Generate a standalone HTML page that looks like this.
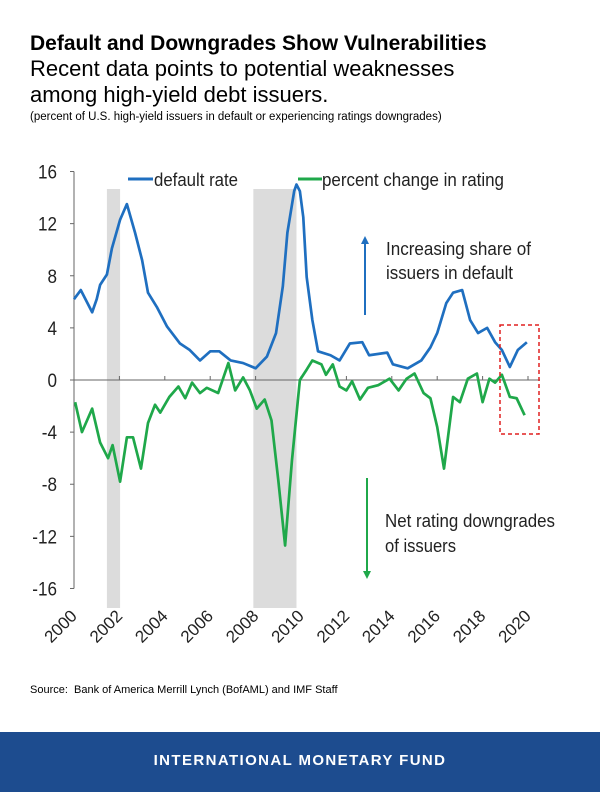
<!DOCTYPE html>
<html><head><meta charset="utf-8"><style>
body{margin:0;width:600px;height:792px;background:#fff;font-family:"Liberation Sans",sans-serif;position:relative;overflow:hidden}
.t{position:absolute;left:30px;color:#000}
</style></head><body>
<div class="t" style="top:32px;font-size:21px;font-weight:bold">Default and Downgrades Show Vulnerabilities</div>
<div class="t" style="top:56px;font-size:22px;line-height:26px">Recent data points to potential weaknesses<br>among high-yield debt issuers.</div>
<div class="t" style="top:111px;font-size:11.5px">(percent of U.S. high-yield issuers in default or experiencing ratings downgrades)</div>
<svg id="chart" style="position:absolute;left:0;top:0" width="600" height="730"></svg>
<div class="t" style="top:684px;font-size:11px">Source:&nbsp; Bank of America Merrill Lynch (BofAML) and IMF Staff</div>
<div style="position:absolute;left:0;top:732px;width:600px;height:60px;background:#1d4c8f;color:#fff;font-weight:bold;font-size:15px;letter-spacing:1.4px;text-align:center;line-height:58px">INTERNATIONAL MONETARY FUND</div>
<script>
const defYears=[2000,2000.3,2000.8,2001,2001.15,2001.45,2001.67,2002.03,2002.33,2002.69,2003,2003.26,2003.65,2004.1,2004.67,2005.1,2005.55,2006,2006.4,2006.9,2007.45,2008,2008.5,2008.9,2009.2,2009.4,2009.7,2009.8,2009.95,2010.1,2010.25,2010.5,2010.75,2011.3,2011.7,2012.15,2012.7,2013,2013.8,2014.05,2014.7,2015.3,2015.7,2016,2016.4,2016.7,2017.1,2017.45,2017.8,2018.2,2018.55,2018.85,2019.2,2019.55,2019.95];
const defVals=[6.2,6.9,5.2,6.2,7.3,8.1,10.1,12.3,13.5,11.3,9.2,6.7,5.6,4.1,2.8,2.3,1.5,2.2,2.2,1.5,1.3,0.9,1.8,3.6,7.2,11.3,14.5,15.0,14.5,12.5,7.9,4.6,2.2,1.9,1.5,2.8,2.9,1.9,2.1,1.2,0.9,1.5,2.5,3.6,5.9,6.7,6.9,4.6,3.6,4.0,2.9,2.3,1.0,2.3,2.9];
const rtYears=[2000.05,2000.35,2000.8,2001.15,2001.5,2001.7,2002.03,2002.33,2002.6,2002.95,2003.26,2003.57,2003.8,2004.2,2004.6,2004.9,2005.2,2005.55,2005.85,2006.35,2006.8,2007.1,2007.45,2007.75,2008.05,2008.4,2008.7,2009.0,2009.3,2009.6,2009.95,2010.25,2010.5,2010.9,2011.1,2011.4,2011.7,2012.0,2012.25,2012.6,2012.95,2013.4,2013.9,2014.3,2014.65,2015.0,2015.4,2015.7,2016.0,2016.3,2016.7,2017.0,2017.35,2017.75,2018.0,2018.3,2018.55,2018.85,2019.2,2019.5,2019.85];
const rtVals=[-1.7,-4.0,-2.2,-4.8,-6.0,-5.0,-7.8,-4.4,-4.4,-6.8,-3.3,-1.9,-2.5,-1.3,-0.5,-1.4,-0.2,-1.0,-0.6,-1.0,1.3,-0.8,0.2,-0.8,-2.2,-1.5,-3.1,-7.7,-12.7,-6.2,0,0.8,1.5,1.2,0.4,1.2,-0.5,-0.8,-0.1,-1.5,-0.6,-0.4,0.1,-0.8,0.1,0.5,-1.0,-1.4,-3.6,-6.8,-1.3,-1.7,0.1,0.5,-1.7,0.1,-0.2,0.4,-1.3,-1.4,-2.7];
const yTicks=[16,12,8,4,0,-4,-8,-12,-16];
const xTicks=[2000,2002,2004,2006,2008,2010,2012,2014,2016,2018,2020];
const recessions=[[2001.45,2002.03],[2007.9,2009.8]];
const NS="http://www.w3.org/2000/svg",svg=document.getElementById('chart');
const X=y=>74+(y-2000)*22.7, Y=v=>380-v*13.03;
function mk(t,a){const e=document.createElementNS(NS,t);for(const k in a)e.setAttribute(k,a[k]);svg.appendChild(e);return e;}
recessions.forEach((r,i)=>{const e=mk('rect',{x:X(r[0]),y:189,width:X(r[1])-X(r[0]),height:419,fill:'#dcdcdc'});

});
let e=mk('line',{x1:74,y1:Y(16),x2:74,y2:Y(-16),stroke:'#666'});


yTicks.forEach(v=>{mk('line',{x1:70,x2:74,y1:Y(v),y2:Y(v),stroke:'#666'});
const t=mk('text',{x:57,y:Y(v)+7,'text-anchor':'end','font-size':19,fill:'#222',transform:`scale(0.9 1)`,'transform-origin':`57 ${Y(v)}`});t.textContent=v;

});
e=mk('line',{x1:74,y1:380,x2:540,y2:380,stroke:'#666'});


xTicks.forEach(v=>{mk('line',{x1:X(v),x2:X(v),y1:376,y2:380,stroke:'#666'});
const t=mk('text',{x:X(v)+4,y:617,'text-anchor':'end','font-size':17,fill:'#222',transform:`rotate(-45 ${X(v)+4} 617)`});t.textContent=v;

});
e=mk('polyline',{points:defYears.map((y,i)=>X(y)+','+Y(defVals[i])).join(' '),fill:'none',stroke:'#1f6fc0','stroke-width':2.7,'stroke-linejoin':'round'});


e=mk('polyline',{points:rtYears.map((y,i)=>X(y)+','+Y(rtVals[i])).join(' '),fill:'none',stroke:'#1fa84a','stroke-width':2.7,'stroke-linejoin':'round'});


e=mk('rect',{x:500,y:325,width:39,height:109,fill:'none',stroke:'#e02020','stroke-width':1.5,'stroke-dasharray':'4,3'});


mk('line',{x1:128,x2:153,y1:179,y2:179,stroke:'#1f6fc0','stroke-width':3});
let t=mk('text',{x:154,y:186,'font-size':18,fill:'#222',textLength:84,lengthAdjust:'spacingAndGlyphs'});t.textContent='default rate';


mk('line',{x1:298,x2:322,y1:179,y2:179,stroke:'#1fa84a','stroke-width':3});
t=mk('text',{x:322,y:186,'font-size':18,fill:'#222',textLength:182,lengthAdjust:'spacingAndGlyphs'});t.textContent='percent change in rating';


mk('line',{x1:365,x2:365,y1:315,y2:242,stroke:'#1f6fc0','stroke-width':2});
mk('polygon',{points:'361,244 369,244 365,236',fill:'#1f6fc0'});
mk('line',{x1:367,x2:367,y1:478,y2:573,stroke:'#1fa84a','stroke-width':2});
mk('polygon',{points:'363,571 371,571 367,579',fill:'#1fa84a'});
[['Increasing share of',386,255,145],['issuers in default',386,279,127],['Net rating downgrades',385,527,170],['of issuers',385,552,71]].forEach(a=>{
const x=mk('text',{x:a[1],y:a[2],'font-size':18,fill:'#222',textLength:a[3],lengthAdjust:'spacingAndGlyphs'});x.textContent=a[0];

});
</script>
</body></html>
